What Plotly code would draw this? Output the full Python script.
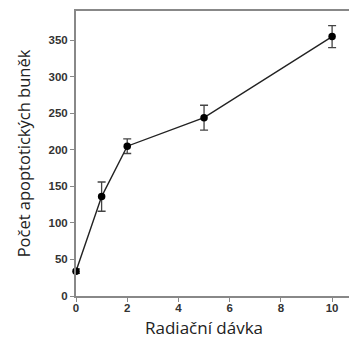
import plotly.graph_objects as go

dose = [0, 1, 2, 5, 10]
cells = [34, 136, 205, 244, 355]
err = [3, 20, 10, 17, 15]

x_ticks = [0, 2, 4, 6, 8, 10]
y_ticks = [0, 50, 100, 150, 200, 250, 300, 350]

fig = go.Figure()
fig.add_trace(go.Scatter(
    x=dose, y=cells, mode="lines+markers",
    line=dict(color="#222222", width=1.4),
    marker=dict(color="#000000", size=7.5),
    error_y=dict(type="data", array=err, visible=True, color="#444444", thickness=1.3, width=4),
    cliponaxis=False, showlegend=False,
))

tickfont = dict(family="Liberation Sans, Arial, sans-serif", size=11.5, color="#333333", weight="bold")
fig.update_layout(
    width=349, height=338,
    margin=dict(l=76, r=0, t=11, b=42),
    paper_bgcolor="white", plot_bgcolor="white",
    xaxis=dict(
        range=[0, 10.66], tickvals=x_ticks, ticktext=[str(v) for v in x_ticks],
        showgrid=False, zeroline=False, showline=True, linecolor="#888888", linewidth=2,
        mirror=True, ticks="outside", ticklen=4, tickcolor="#888888", tickwidth=1,
        ticklabelstandoff=-4,
        tickfont=tickfont,
    ),
    yaxis=dict(
        range=[0, 390], tickvals=y_ticks, ticktext=[str(v) for v in y_ticks],
        showgrid=False, zeroline=False, showline=True, linecolor="#888888", linewidth=2,
        ticks="outside", ticklen=4, tickcolor="#888888", tickwidth=1,
        tickfont=tickfont,
        title=dict(text="Počet apoptotických buněk", font=dict(family="Open Sans, sans-serif", size=16.5, color="#222222"), standoff=14),
    ),
    annotations=[dict(
        text="Radiační dávka", xref="paper", yref="paper", x=0.47, y=0, yshift=-45,
        xanchor="center", yanchor="bottom", showarrow=False,
        font=dict(family="Open Sans, sans-serif", size=17, color="#222222"),
    )],
)
fig.write_html("out.html")
